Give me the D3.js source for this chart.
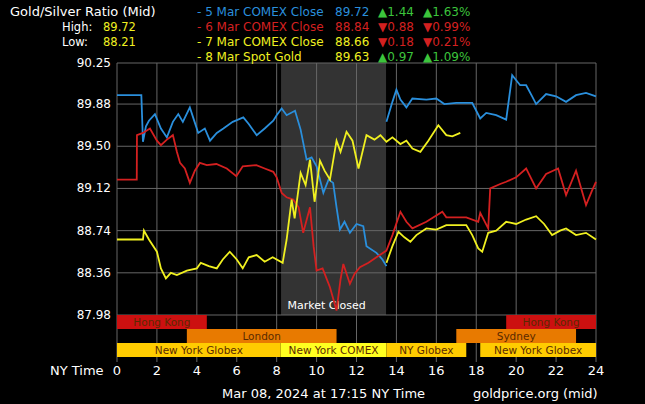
<!DOCTYPE html>
<html><head><meta charset="utf-8">
<script src="https://cdn.jsdelivr.net/npm/d3@7"></script>
<style>body{margin:0;background:#000}svg{display:block}text{font-family:"DejaVu Sans",Verdana,sans-serif}</style>
</head><body><svg id="c" width="645" height="404"></svg>
<script>
const yTicks=[90.25,89.88,89.50,89.12,88.74,88.36,87.98];
const xTicks=[0,2,4,6,8,10,12,14,16,18,20,22,24];
const blue=[[0,89.96],[1.22,89.96],[1.3,89.54],[1.45,89.68],[1.6,89.73],[1.9,89.79],[2.2,89.66],[2.5,89.58],[2.8,89.72],[3.07,89.79],[3.3,89.72],[3.65,89.85],[3.85,89.74],[4.07,89.62],[4.4,89.66],[4.66,89.55],[5.0,89.62],[5.33,89.66],[5.8,89.72],[6.33,89.76],[6.6,89.7],[7.0,89.6],[7.4,89.66],[7.83,89.73],[8.0,89.78],[8.25,89.84],[8.5,89.78],[8.92,89.82],[9.2,89.65],[9.5,89.38],[9.75,89.4],[10.0,89.32],[10.34,89.08],[10.6,89.2],[10.83,89.17],[11.0,88.95],[11.17,88.75],[11.4,88.82],[11.67,88.72],[12.0,88.8],[12.34,88.78],[12.5,88.6],[13.0,88.54],[13.3,88.48],[13.5,88.42],null,[13.5,89.72],[13.8,89.9],[14.0,90.01],[14.2,89.92],[14.5,89.85],[14.8,89.93],[15.5,89.92],[16.0,89.93],[16.4,89.88],[17.0,89.89],[17.8,89.89],[18.2,89.75],[18.5,89.8],[19.0,89.78],[19.5,89.74],[19.8,90.14],[20.2,90.05],[20.5,90.05],[20.8,89.95],[21.0,89.88],[21.5,89.97],[22.0,89.95],[22.5,89.9],[23.0,89.96],[23.5,89.98],[24,89.95]];
const red=[[0,89.2],[0.99,89.2],[1.0,89.6],[1.3,89.62],[1.65,89.66],[2.0,89.55],[2.2,89.51],[2.5,89.56],[2.8,89.6],[3.0,89.45],[3.16,89.35],[3.4,89.3],[3.65,89.17],[3.9,89.28],[4.15,89.35],[4.5,89.33],[4.98,89.34],[5.5,89.3],[5.98,89.23],[6.3,89.32],[6.98,89.33],[7.4,89.3],[7.83,89.27],[8.0,89.22],[8.25,89.08],[8.5,89.04],[8.83,89.02],[9.1,88.95],[9.33,88.72],[9.67,88.95],[9.85,88.6],[10.0,88.38],[10.3,88.4],[10.67,88.23],[11.0,88.02],[11.2,88.3],[11.34,88.44],[11.67,88.26],[11.9,88.35],[12.17,88.41],[12.6,88.45],[13.0,88.5],[13.5,88.56],[13.8,88.7],[14.2,88.91],[14.5,88.82],[14.8,88.76],[15.5,88.82],[16.3,88.91],[16.5,88.86],[17.5,88.86],[18.1,88.82],[18.2,88.9],[18.6,88.76],[18.7,89.12],[19.2,89.16],[19.5,89.18],[20.0,89.22],[20.5,89.3],[21.0,89.12],[21.5,89.25],[22.1,89.3],[22.5,89.06],[23.0,89.28],[23.5,88.97],[23.8,89.1],[24,89.18]];
const yellow=[[0,88.66],[1.3,88.66],[1.35,88.74],[1.6,88.66],[2.0,88.55],[2.2,88.4],[2.45,88.31],[2.7,88.36],[3.0,88.34],[3.5,88.38],[4.0,88.4],[4.2,88.45],[4.6,88.42],[5.0,88.4],[5.3,88.48],[5.65,88.55],[6.0,88.48],[6.3,88.4],[6.6,88.5],[7.0,88.52],[7.4,88.46],[7.8,88.5],[8.3,88.45],[8.5,88.66],[8.75,89.02],[8.9,88.85],[9.2,89.26],[9.45,89.15],[9.67,89.38],[9.9,89.0],[10.17,89.37],[10.4,89.28],[10.67,89.2],[11.0,89.55],[11.2,89.45],[11.5,89.63],[11.8,89.55],[12.1,89.3],[12.5,89.6],[12.9,89.56],[13.2,89.6],[13.5,89.54],[13.8,89.58],[14.2,89.52],[14.5,89.55],[14.8,89.48],[15.2,89.45],[15.6,89.55],[16.1,89.69],[16.5,89.6],[16.8,89.59],[17.2,89.62]];
const yellow2=[[13.5,88.45],[13.8,88.6],[14.1,88.73],[14.4,88.68],[14.7,88.64],[15.0,88.7],[15.5,88.76],[16.0,88.75],[16.5,88.79],[17.5,88.79],[17.8,88.7],[18.1,88.58],[18.3,88.55],[18.6,88.72],[19.0,88.74],[19.5,88.82],[20.0,88.8],[20.5,88.84],[21.0,88.87],[21.4,88.8],[21.8,88.7],[22.2,88.74],[22.5,88.76],[23.0,88.7],[23.5,88.72],[24,88.66]];
const legend=[["- 5 Mar COMEX Close","89.72","\u25B21.44","\u25B21.63%","#2a8fdc","#3cc43c"],["- 6 Mar COMEX Close","88.84","\u25BC0.88","\u25BC0.99%","#d42020","#d42020"],["- 7 Mar COMEX Close","88.66","\u25BC0.18","\u25BC0.21%","#f0f020","#d42020"],["- 8 Mar Spot Gold","89.63","\u25B20.97","\u25B21.09%","#f0f020","#3cc43c"]];
const sessions=[["Hong Kong",0,4.5,0,"#cc1010"],["Hong Kong",19.5,24,0,"#cc1010"],["London",3.5,11,1,"#e87a00"],["Sydney",17,23,1,"#e87a00"],["New York Globex",0,8.2,2,"#ffcc00"],["New York COMEX",8.2,13.5,2,"#ffff20"],["NY Globex",13.5,17.5,2,"#ffcc00"],["New York Globex",18.2,24,2,"#ffcc00"]];

const svg=d3.select("#c");
const x=d3.scaleLinear().domain([0,24]).range([117,596]);
const y=d3.scaleLinear().domain([87.98,90.25]).range([315,63]);
svg.append("rect").attr("width",645).attr("height",404).attr("fill","#000");
svg.append("rect").attr("x",x(8.22)).attr("y",63).attr("width",x(13.48)-x(8.22)).attr("height",315-63).attr("fill","#333");
const g=svg.append("g");
xTicks.forEach(t=>g.append("line").attr("x1",x(t)).attr("x2",x(t)).attr("y1",63).attr("y2",362).attr("stroke","#666"));
yTicks.forEach(t=>g.append("line").attr("x1",x(0)).attr("x2",x(24)).attr("y1",y(t)).attr("y2",y(t)).attr("stroke","#666"));
yTicks.forEach(t=>svg.append("text").attr("x",111).attr("y",y(t)+4).attr("text-anchor","end").attr("fill","#fff").attr("font-size",12).text(t.toFixed(2)));
xTicks.forEach(t=>svg.append("text").attr("x",x(t)).attr("y",375).attr("text-anchor","middle").attr("fill","#fff").attr("font-size",13).text(t));
svg.append("text").attr("x",50).attr("y",375).attr("fill","#fff").attr("font-size",13).text("NY Time");
svg.append("text").attr("x",x(10.5)).attr("y",309).attr("text-anchor","middle").attr("fill","#fff").attr("font-size",11).text("Market Closed");
const line=d3.line().defined(d=>d!==null).x(d=>x(d[0])).y(d=>y(d[1]));
[[blue,"#2a8fdc"],[red,"#d42020"],[yellow,"#f0f020"],[yellow2,"#f0f020"]].forEach(([d,c])=>svg.append("path").attr("d",line(d)).attr("fill","none").attr("stroke",c).attr("stroke-width",1.8));
const rowY=[315,329,343];
sessions.forEach(([n,a,b,r,c])=>{
 svg.append("rect").attr("x",x(a)).attr("y",rowY[r]).attr("width",x(b)-x(a)).attr("height",14).attr("fill",c);
 svg.append("text").attr("x",(x(a)+x(b))/2).attr("y",rowY[r]+11).attr("text-anchor","middle").attr("fill","#5a2a00").attr("font-size",10.5).text(n);
});
svg.append("text").attr("x",10).attr("y",16).attr("fill","#fff").attr("font-size",13).text("Gold/Silver Ratio (Mid)");
svg.append("text").attr("x",62).attr("y",31).attr("fill","#fff").attr("font-size",11.5).text("High:");
svg.append("text").attr("x",103).attr("y",31).attr("fill","#f0f020").attr("font-size",11.5).text("89.72");
svg.append("text").attr("x",62).attr("y",46).attr("fill","#fff").attr("font-size",11.5).text("Low:");
svg.append("text").attr("x",103).attr("y",46).attr("fill","#f0f020").attr("font-size",11.5).text("88.21");
legend.forEach((l,i)=>{
 const yy=16+i*15;
 svg.append("text").attr("x",197).attr("y",yy).attr("fill",l[4]).attr("font-size",12).text(l[0]);
 svg.append("text").attr("x",335).attr("y",yy).attr("fill",l[4]).attr("font-size",12).text(l[1]);
 svg.append("text").attr("x",378).attr("y",yy).attr("fill",l[5]).attr("font-size",12).text(l[2]);
 svg.append("text").attr("x",423).attr("y",yy).attr("fill",l[5]).attr("font-size",12).text(l[3]);
});
svg.append("text").attr("x",222).attr("y",398).attr("fill","#fff").attr("font-size",13).text("Mar 08, 2024 at 17:15 NY Time");
svg.append("text").attr("x",473).attr("y",398).attr("fill","#fff").attr("font-size",13).text("goldprice.org (mid)");
</script></body></html>
